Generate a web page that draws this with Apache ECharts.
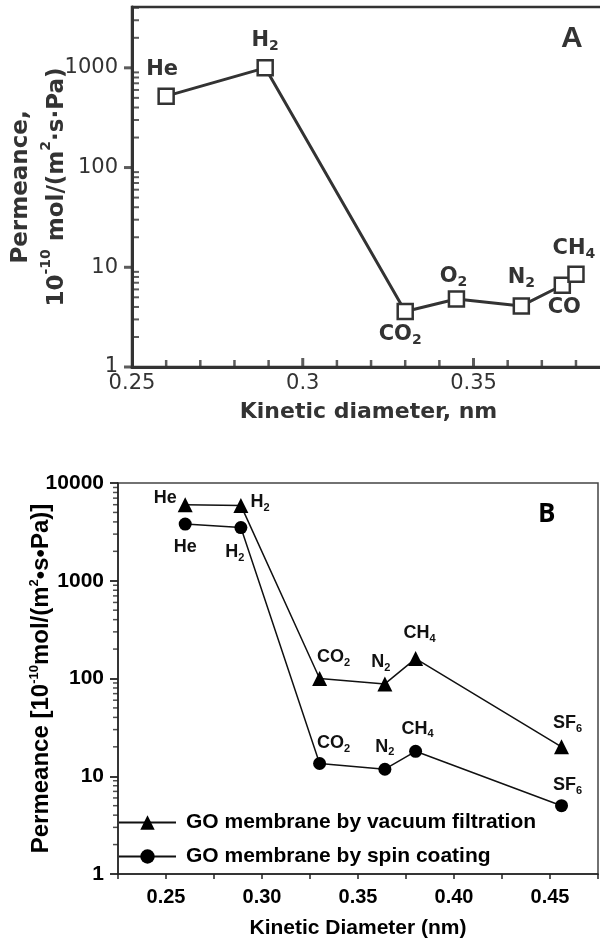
<!DOCTYPE html>
<html>
<head>
<meta charset="utf-8">
<script src="https://cdn.jsdelivr.net/npm/echarts@6/dist/echarts.min.js"></script>
<style>
html, body { margin: 0; padding: 0; background: #fff; }
#chart { width: 600px; height: 941px; }
</style>
</head>
<body>
<div id="chart"></div>
<script>
// panel A : single GO membrane
var gasA = ['He', 'H2', 'CO2', 'O2', 'N2', 'CO', 'CH4'];
var diamA = [0.260, 0.289, 0.330, 0.345, 0.364, 0.376, 0.380];
var permA = [520, 1000, 3.6, 4.8, 4.1, 6.6, 8.5];
var yTicksA = [1, 10, 100, 1000];
var xTicksA = [0.25, 0.3, 0.35];

// panel B : vacuum filtration vs spin coating
var gasB = ['He', 'H2', 'CO2', 'N2', 'CH4', 'SF6'];
var diamB = [0.260, 0.289, 0.330, 0.364, 0.380, 0.456];
var permVacuum = [6000, 5900, 100, 88, 160, 20];
var permSpin = [3800, 3500, 13.5, 11.8, 18, 5.0];
var yTicksB = [1, 10, 100, 1000, 10000];
var xTicksB = [0.25, 0.30, 0.35, 0.40, 0.45];
var seriesNamesB = ['GO membrane by vacuum filtration', 'GO membrane by spin coating'];

(function(){
	var fontA = 'DejaVu Sans', fontB = 'Liberation Sans';
	var inkA = '#333', inkB = '#111';
	var xMinA = 0.25, xMaxA = 0.3885, yMaxA = 4074;
	var xMinB = 0.225, xMaxB = 0.475;

	// H2 -> {b|H}{s|2}
	function toRich(t){
		return t.replace(/([A-Za-z]+)|(\d+)/g, function(m, a, d){
			return a ? '{b|' + a + '}' : '{s|' + d + '}';
		});
	}
	// 2..9 x each decade, up to top
	function logMinors(top){
		var out = [];
		for(var d = 1; d < top; d *= 10){
			for(var k = 2; k <= 9; k++){
				if(k * d <= top) out.push(k * d);
			}
		}
		return out;
	}
	function isPow10(v){
		var l = Math.log10(v);
		return Math.abs(l - Math.round(l)) < 1e-6;
	}

	// tick marks: thin rect symbols placed on the axis, shifted in px
	function tickSeries(name, xi, yi, pts, size, offset, color){
		return {
			type: 'scatter', name: name, xAxisIndex: xi, yAxisIndex: yi, clip: false,
			data: pts,
			symbol: 'rect', symbolSize: size, symbolOffset: offset,
			itemStyle: { color: color }
		};
	}
	function onY(vals, x){ return vals.map(function(v){ return [x, v]; }); }
	function onX(vals, y){ return vals.map(function(v){ return [v, y]; }); }

	// label placement, [position, offset]
	var placeA = [['top', [-4, 0]], ['top', [0, -1]], ['bottom', [-5, -4]], ['top', [-3, 4]],
		['top', [0, -2]], ['bottom', [2, -4]], ['top', [-2, 1]]];
	var placeVac = [['left', [4, -7]], ['right', [-3, -3]], ['top', [14, 2]], ['top', [-4, 2]],
		['top', [4, -2]], ['top', [6, 0]]];
	var placeSpin = [['bottom', [0, 0]], ['bottom', [-6, 2]], ['top', [14, 2]], ['top', [0, 0]],
		['top', [2, 0]], ['top', [6, 2]]];

	function buildData(names, xs, ys, place){
		return names.map(function(n, i){
			return {
				name: n,
				value: [xs[i], ys[i]],
				label: { position: place[i][0], offset: place[i][1] }
			};
		});
	}

	var richA = {
		b: { fontFamily: fontA, fontWeight: 'bold', fontSize: 21, lineHeight: 26, color: inkA },
		s: { fontFamily: fontA, fontWeight: 'bold', fontSize: 14, lineHeight: 14, verticalAlign: 'bottom', color: inkA }
	};
	var richB = {
		b: { fontFamily: fontB, fontWeight: 'bold', fontSize: 18, lineHeight: 22, color: inkB },
		s: { fontFamily: fontB, fontWeight: 'bold', fontSize: 11, lineHeight: 11, verticalAlign: 'bottom', color: inkB }
	};

	var minorXA = [];
	for(var i = 26; i <= 38; i++){
		if(i % 5) minorXA.push(i / 100);
	}

	var chart = echarts.init(document.getElementById('chart'), null, { renderer: 'canvas' });
	var option = {
		animation: false,
		backgroundColor: '#fff',
		grid: [
			{ left: 132, top: 7, width: 473, height: 360, outerBoundsMode: 'none', containLabel: false,
				show: true, borderColor: inkA, borderWidth: 2.5, backgroundColor: 'transparent' },
			{ left: 118, top: 483, width: 480, height: 391, outerBoundsMode: 'none', containLabel: false,
				show: true, borderColor: '#444', borderWidth: 1.5, backgroundColor: 'transparent' }
		],
		graphic: [
			{ type: 'text', left: 561, top: 24, style: { text: 'A', font: 'bold 30px "Liberation Sans"', fill: inkA } },
			{ type: 'text', left: 538, top: 502, style: { text: 'B', font: 'bold 26px "Open Sans"', fill: '#000' } }
		],
		legend: {
			orient: 'vertical',
			left: 118,
			top: 812,
			padding: 0,
			itemWidth: 57,
			itemHeight: 18,
			itemGap: 13,
			data: seriesNamesB,
			textStyle: { fontFamily: fontB, fontWeight: 'bold', fontSize: 21, color: '#000', padding: [0, 0, 0, 5] }
		},
		xAxis: [
			{
				gridIndex: 0, type: 'value', position: 'bottom', min: xMinA, max: xMaxA,
				name: 'Kinetic diameter, nm', nameLocation: 'middle', nameGap: 34, nameMoveOverlap: false,
				nameTextStyle: { fontFamily: fontA, fontWeight: 'bold', fontSize: 22, color: inkA },
				axisLine: { onZero: false, lineStyle: { color: inkA, width: 3 } },
				axisTick: { show: false },
				axisLabel: { customValues: xTicksA, margin: 6, fontFamily: fontA, fontSize: 21, color: inkA,
					formatter: function(v){ return String(+v.toFixed(2)); } },
				splitLine: { show: false }
			},
			{
				gridIndex: 1, type: 'value', position: 'bottom', min: xMinB, max: xMaxB, interval: 0.025,
				name: 'Kinetic Diameter (nm)', nameLocation: 'middle', nameGap: 44, nameMoveOverlap: false,
				nameTextStyle: { fontFamily: fontB, fontWeight: 'bold', fontSize: 21, color: '#000' },
				axisLine: { onZero: false, lineStyle: { color: '#222', width: 1.5 } },
				axisTick: { length: 5, lineStyle: { color: '#222', width: 1.5 } },
				axisLabel: { margin: 13, fontFamily: fontB, fontWeight: 'bold', fontSize: 20, color: '#000',
					formatter: function(v){
						for(var i = 0; i < xTicksB.length; i++){
							if(Math.abs(v - xTicksB[i]) < 1e-6) return xTicksB[i].toFixed(2);
						}
						return '';
					} },
				splitLine: { show: false }
			}
		],
		yAxis: [
			{
				gridIndex: 0, type: 'log', logBase: 10, position: 'left', min: 1, max: yMaxA,
				name: '{n|Permeance,}\n{n|10}{p|-10}{n| mol/(m}{p|2}{n|·s·Pa)}',
				nameLocation: 'middle', nameGap: 57, nameRotate: 90, nameMoveOverlap: false,
				nameTextStyle: {
					rich: {
						n: { fontFamily: fontA, fontWeight: 'bold', fontSize: 23, lineHeight: 36, color: inkA },
						p: { fontFamily: fontA, fontWeight: 'bold', fontSize: 14, lineHeight: 26, verticalAlign: 'top', color: inkA }
					}
				},
				axisLine: { onZero: false, lineStyle: { color: inkA, width: 3 } },
				axisTick: { show: false },
				axisLabel: { margin: 14, fontFamily: fontA, fontSize: 21, color: inkA,
					formatter: function(v){ return isPow10(v) ? String(Math.round(v)) : ''; } },
				splitLine: { show: false }
			},
			{
				gridIndex: 1, type: 'log', logBase: 10, position: 'left', min: 1, max: 10000,
				name: '{n|Permeance [10}{p|-10}{n|mol/(m}{p|2}{n|•s•Pa)]}',
				nameLocation: 'middle', nameGap: 64, nameRotate: 90, nameMoveOverlap: false,
				nameTextStyle: {
					rich: {
						n: { fontFamily: fontB, fontWeight: 'bold', fontSize: 24, lineHeight: 26, color: '#000' },
						p: { fontFamily: fontB, fontWeight: 'bold', fontSize: 13, lineHeight: 18, verticalAlign: 'top', color: '#000' }
					}
				},
				axisLine: { onZero: false, lineStyle: { color: '#222', width: 1.5 } },
				axisTick: { length: 8, lineStyle: { color: '#222', width: 1.8 } },
				axisLabel: { margin: 14, fontFamily: fontB, fontWeight: 'bold', fontSize: 21, color: '#000',
					formatter: function(v){ return isPow10(v) ? String(Math.round(v)) : ''; } },
				splitLine: { show: false }
			}
		],
		series: [
			{
				type: 'line', name: 'A', xAxisIndex: 0, yAxisIndex: 0,
				data: buildData(gasA, diamA, permA, placeA),
				symbol: 'rect', symbolSize: 15,
				lineStyle: { color: inkA, width: 3 },
				itemStyle: { color: '#fff', borderColor: inkA, borderWidth: 2.5 },
				label: { show: true, distance: 5, formatter: function(p){ return toRich(p.name); }, rich: richA },
				z: 3
			},
			{
				type: 'line', name: seriesNamesB[0], xAxisIndex: 1, yAxisIndex: 1,
				data: buildData(gasB, diamB, permVacuum, placeVac),
				symbol: 'triangle', symbolSize: 15,
				lineStyle: { color: '#111', width: 1.5 },
				itemStyle: { color: '#000' },
				label: { show: true, distance: 5, formatter: function(p){ return toRich(p.name); }, rich: richB }
			},
			{
				type: 'line', name: seriesNamesB[1], xAxisIndex: 1, yAxisIndex: 1,
				data: buildData(gasB, diamB, permSpin, placeSpin),
				symbol: 'circle', symbolSize: 13,
				lineStyle: { color: '#111', width: 1.5 },
				itemStyle: { color: '#000' },
				label: { show: true, distance: 5, formatter: function(p){ return toRich(p.name); }, rich: richB }
			},
			tickSeries('tickMajorYA', 0, 0, onY(yTicksA, xMinA), [8, 3], [-4, 0], inkA),
			tickSeries('tickMinorYA', 0, 0, onY(logMinors(yMaxA), xMinA), [7, 2], [3.5, 0], inkA),
			tickSeries('tickMinorXA', 0, 0, onX(minorXA, 1), [2.5, 7], [0, -3.5], inkA),
			tickSeries('tickMajorXA', 0, 0, onX([0.3, 0.35], 1), [3, 9], [0, -4.5], inkA),
			tickSeries('tickMinorYB', 1, 1, onY(logMinors(10000), xMinB), [5, 1.5], [-2.5, 0], '#222')
		]
	};
	chart.setOption(option);
})();
</script>
</body>
</html>
